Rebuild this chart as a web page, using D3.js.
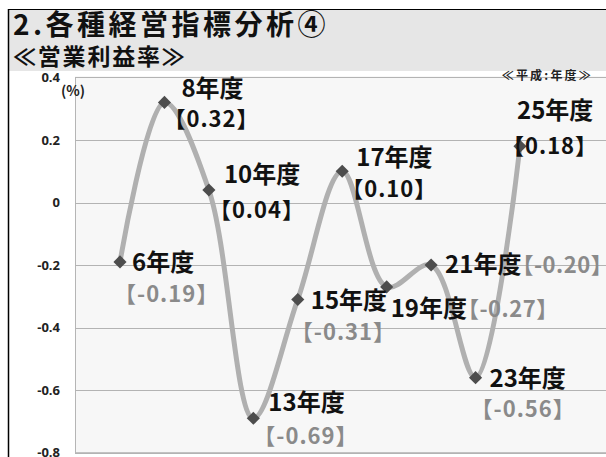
<!DOCTYPE html>
<html><head><meta charset="utf-8">
<script src="https://cdn.jsdelivr.net/npm/d3@7"></script>
<style>body{margin:0;background:#fff}svg{display:block}</style>
</head><body>
<svg id="c" width="606" height="457"></svg>
<script>
const categories = ["6年度","8年度","10年度","13年度","15年度","17年度","19年度","21年度","23年度","25年度"];
const values = [-0.19, 0.32, 0.04, -0.69, -0.31, 0.10, -0.27, -0.20, -0.56, 0.18];
const valueLabels = ["【-0.19】","【0.32】","【0.04】","【-0.69】","【-0.31】","【0.10】","【-0.27】","【-0.20】","【-0.56】","【0.18】"];
const yTicks = [0.4, 0.2, 0, -0.2, -0.4, -0.6, -0.8];
const yTickLabels = ["0.4","0.2","0","-0.2","-0.4","-0.6","-0.8"];
const title = "2.各種経営指標分析④";
const subtitle = "≪営業利益率≫";
const unitLabel = "(%)";
const eraNote = "≪平成:年度≫";

// layout (label placement relative to each point)
const labelLayout = [
  {mode:"stack", nx:12, ny:1, vx:-6, vy:32},
  {mode:"stack", nx:17, ny:-14, vx:-1, vy:17},
  {mode:"stack", nx:15, ny:-15, vx:0, vy:20},
  {mode:"stack", nx:15, ny:-16, vx:0, vy:18},
  {mode:"stack", nx:13, ny:1, vx:-7, vy:33},
  {mode:"stack", nx:14, ny:-14, vx:-1, vy:18},
  {mode:"inline", nx:4, ny:24},
  {mode:"inline", nx:14, ny:2},
  {mode:"stack", nx:14, ny:1, vx:-5, vy:32},
  {mode:"stack", nx:-3, ny:-36, vx:-18, vy:0}
];

const svg = d3.select("#c");
const CJK = "'Noto Sans CJK JP','Noto Sans',sans-serif";

// title band
svg.append("rect").attr("x",8).attr("y",9).attr("width",600).attr("height",62).attr("fill","#e6e6e6");
svg.append("line").attr("x1",8).attr("x2",606).attr("y1",9.5).attr("y2",9.5).attr("stroke","#000").attr("stroke-width",1);
svg.append("line").attr("x1",8.5).attr("x2",8.5).attr("y1",9).attr("y2",457).attr("stroke","#000").attr("stroke-width",1.5);
svg.append("text").attr("x",13).attr("y",35).text(title)
  .attr("font-family",CJK).attr("font-weight","bold").attr("font-size",28).attr("letter-spacing",3.5).attr("fill","#111");
svg.append("text").attr("x",13).attr("y",65).text(subtitle)
  .attr("font-family",CJK).attr("font-weight","bold").attr("font-size",23).attr("letter-spacing",1.8).attr("fill","#111");

// plot
const plotL = 75, plotR = 620, plotT = 77.4, plotB = 452.7;
const y = d3.scaleLinear().domain([-0.8, 0.4]).range([plotB, plotT]);
const x = d3.scalePoint().domain(categories).range([120, 520]);

svg.append("rect").attr("x",plotL+0.5).attr("y",plotT).attr("width",plotR-plotL).attr("height",plotB-plotT)
  .attr("fill","#f7f7f7").attr("stroke","#b5b5b5").attr("stroke-width",1);

const grid = svg.append("g");
grid.selectAll("line").data(yTicks).join("line")
  .attr("x1",plotL).attr("x2",plotR)
  .attr("y1",d=>Math.round(y(d))+0.5).attr("y2",d=>Math.round(y(d))+0.5)
  .attr("stroke","#b3b3b3").attr("stroke-width",1.2);

const yAxis = d3.axisLeft(y).tickValues(yTicks).tickSize(0).tickPadding(0)
  .tickFormat((d,i)=>yTickLabels[i]);
const ga = svg.append("g").attr("transform",`translate(60,0)`).call(yAxis);
ga.select(".domain").remove();
ga.selectAll("text").attr("font-family","'Open Sans','Noto Sans',sans-serif").attr("font-weight","bold")
  .attr("font-size",13).attr("fill","#222");

svg.append("text").attr("x",61).attr("y",96).text(unitLabel)
  .attr("font-family",CJK).attr("font-weight","bold").attr("font-size",14).attr("fill","#222");
svg.append("text").attr("x",593).attr("y",80).attr("text-anchor","end").text(eraNote)
  .attr("font-family",CJK).attr("font-weight","bold").attr("font-size",12).attr("letter-spacing",2.2).attr("fill","#222");

// line
const line = d3.line().x((d,i)=>x(categories[i])).y(d=>y(d)).curve(d3.curveCatmullRom.alpha(0.5));
svg.append("path").datum(values).attr("d",line).attr("fill","none")
  .attr("stroke","#b0b0b0").attr("stroke-width",5).attr("stroke-linecap","round");

// markers
svg.append("g").selectAll("path").data(values).join("path")
  .attr("d",d3.symbol().type(d3.symbolDiamond2).size(110))
  .attr("transform",(d,i)=>`translate(${x(categories[i])},${y(d)})`)
  .attr("fill","#4d4d4d");

// labels
const lg = svg.append("g").attr("font-family",CJK).attr("font-weight","bold");
values.forEach((v,i)=>{
  const px = x(categories[i]), py = y(v), L = labelLayout[i];
  const vcol = v < 0 ? "#8a8a8a" : "#111";
  if (L.mode === "inline") {
    const t = lg.append("text").attr("x",px+L.nx).attr("y",py+L.ny).attr("dy","0.35em");
    t.append("tspan").text(categories[i]).attr("fill","#111").attr("font-size",24);
    t.append("tspan").text(valueLabels[i]).attr("fill",vcol).attr("font-size",22).attr("letter-spacing",0.5).attr("dx",-10);
  } else {
    lg.append("text").attr("x",px+L.nx).attr("y",py+L.ny).attr("dy","0.35em").attr("font-size",24)
      .text(categories[i]).attr("fill","#111");
    lg.append("text").attr("x",px+L.vx).attr("y",py+L.vy).attr("dy","0.35em").attr("font-size",22)
      .attr("letter-spacing",1).text(valueLabels[i]).attr("fill",vcol);
  }
});
</script>
</body></html>
